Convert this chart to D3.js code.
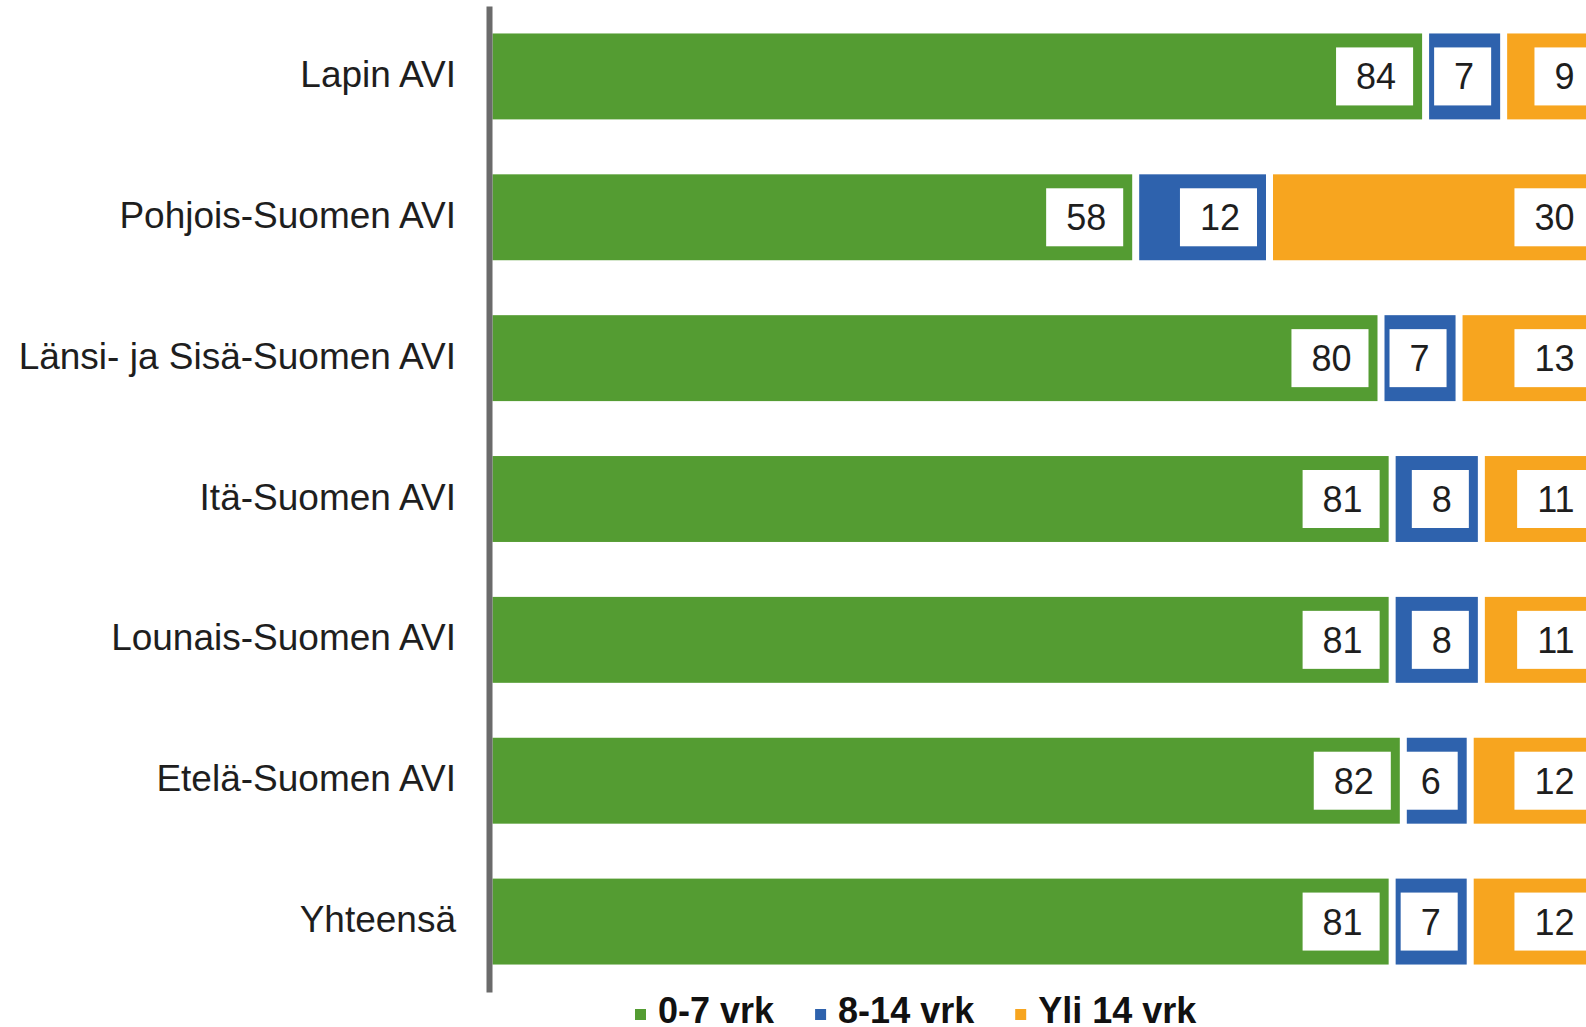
<!DOCTYPE html>
<html>
<head>
<meta charset="utf-8">
<script src="https://cdn.jsdelivr.net/npm/d3@7"></script>
<style>
  body { margin: 0; background: #fff; }
  svg { display: block; font-family: "Liberation Sans", Arial, sans-serif; }
</style>
</head>
<body>
<svg id="chart" width="1586" height="1027"></svg>
<script>
// Data (percent of cases by handling time)
var categories = ["Lapin AVI", "Pohjois-Suomen AVI", "Länsi- ja Sisä-Suomen AVI",
  "Itä-Suomen AVI", "Lounais-Suomen AVI", "Etelä-Suomen AVI", "Yhteensä"];
var seriesNames = ["0-7 vrk", "8-14 vrk", "Yli 14 vrk"];
var days0to7 = [84, 58, 80, 81, 81, 82, 81];
var days8to14 = [7, 12, 7, 8, 8, 6, 7];
var over14 = [9, 30, 13, 11, 11, 12, 12];
var colors = ["#549c32", "#2e62ad", "#f7a51f"];

var svg = d3.select("#chart");

var x = d3.scaleLinear().domain([0, 100]).range([489, 1604]);
var y = d3.scaleBand().domain(categories).range([6, 992])
  .paddingInner(0.39).paddingOuter(0.195);

// stack the three series
var rows = categories.map(function(c, i) {
  return { cat: c, a: days0to7[i], b: days8to14[i], c: over14[i] };
});
var stacked = d3.stack().keys(["a", "b", "c"])(rows);

var gap = 3.5; // white gap on each side of a segment

var layers = svg.append("g").selectAll("g")
  .data(stacked)
  .join("g")
  .attr("fill", function(d, i) { return colors[i]; });

layers.selectAll("rect")
  .data(function(d) { return d; })
  .join("rect")
  .attr("x", function(d) { return x(d[0]) + gap; })
  .attr("y", function(d) { return y(d.data.cat); })
  .attr("width", function(d) { return x(d[1]) - x(d[0]) - 2 * gap; })
  .attr("height", y.bandwidth());

// value labels in white boxes, right-aligned in each segment
var labels = svg.append("g");
stacked.forEach(function(layer) {
  layer.forEach(function(d) {
    var val = d[1] - d[0];
    var cy = y(d.data.cat) + y.bandwidth() / 2;
    var g = labels.append("g");
    var box = g.append("rect").attr("fill", "#fff");
    var t = g.append("text")
      .attr("font-size", 36)
      .attr("fill", "#1e1e1e")
      .attr("text-anchor", "middle")
      .text(val);
    var tw = t.node().getComputedTextLength();
    var bw = tw + 37;
    var right = x(d[1]) - 12.5;
    box.attr("x", right - bw).attr("y", cy - 29).attr("width", bw).attr("height", 58);
    t.attr("x", right - bw / 2 + 1.5).attr("y", cy + 13);
  });
});

// category axis
var axis = svg.append("g")
  .attr("transform", "translate(489,0)")
  .call(d3.axisLeft(y).tickSize(0).tickPadding(33));
axis.select(".domain")
  .attr("stroke", "#6b6b6b")
  .attr("stroke-width", 6);
axis.selectAll("text")
  .attr("font-size", 37)
  .attr("font-family", "Liberation Sans, Arial, sans-serif")
  .attr("fill", "#1e1e1e")
  .attr("dy", 10.5);

// legend
var legend = svg.append("g");
var lx = 635;
seriesNames.forEach(function(name, i) {
  legend.append("rect")
    .attr("x", lx).attr("y", 1009)
    .attr("width", 11).attr("height", 11)
    .attr("fill", colors[i]);
  var t = legend.append("text")
    .attr("x", lx + 23).attr("y", 1023)
    .attr("font-size", 36)
    .attr("font-weight", "bold")
    .attr("fill", "#111")
    .text(name);
  lx = lx + 23 + t.node().getComputedTextLength() + 41;
});
</script>
</body>
</html>
